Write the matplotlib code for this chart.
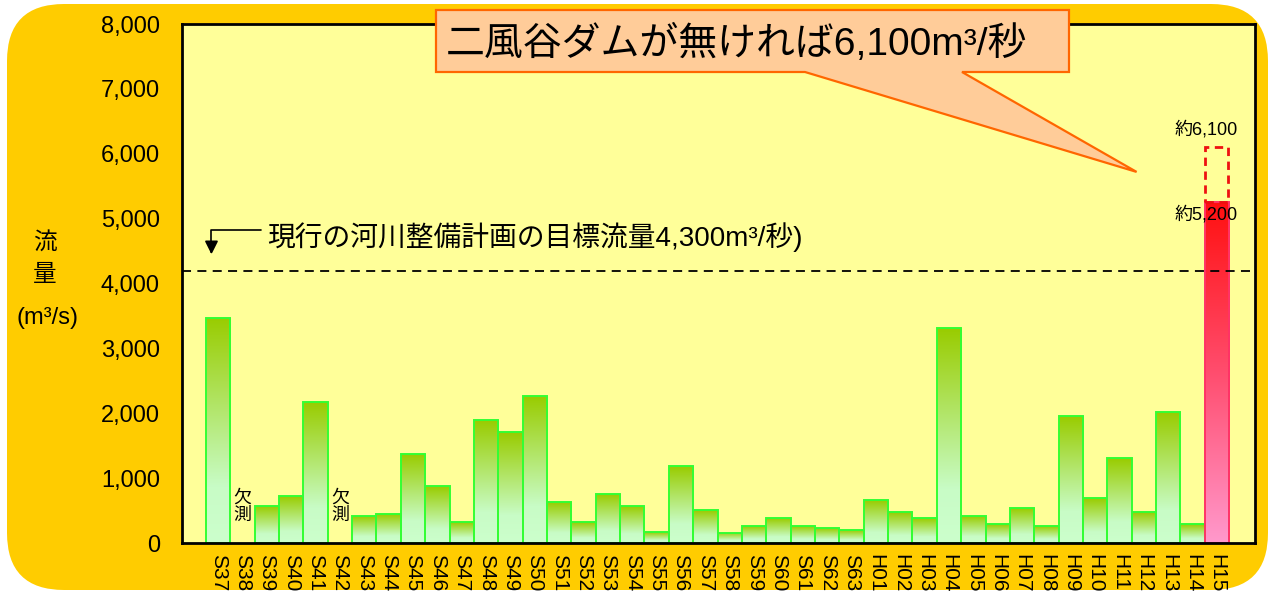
import matplotlib.pyplot as plt
import numpy as np
from matplotlib.colors import LinearSegmentedColormap
from matplotlib.patches import Rectangle, FancyBboxPatch, Polygon

plt.rcParams["font.family"] = ["Liberation Sans", "Noto Sans CJK JP"]

# ---- data ----
years = ["S37", "S38", "S39", "S40", "S41", "S42", "S43", "S44", "S45", "S46",
         "S47", "S48", "S49", "S50", "S51", "S52", "S53", "S54", "S55", "S56",
         "S57", "S58", "S59", "S60", "S61", "S62", "S63",
         "H01", "H02", "H03", "H04", "H05", "H06", "H07", "H08", "H09", "H10",
         "H11", "H12", "H13", "H14", "H15"]
flow = [3470, 0, 566, 720, 2170, 0, 411, 442, 1367, 874,
        319, 1895, 1710, 2265, 627, 319, 750, 566, 165, 1182,
        504, 160, 257, 380, 257, 227, 196,
        658, 473, 380, 3313, 411, 288, 535, 257, 1957, 689,
        1305, 473, 2018, 288, 5250]
missing = ["S38", "S42"]          # 欠測
target_line = 4200                 # drawn position of the 4,300 m3/s target
no_dam_flow = 6100                 # H15 without the dam
yticks = [0, 1000, 2000, 3000, 4000, 5000, 6000, 7000, 8000]

ORANGE = "#ffcc00"
PLOT_BG = "#ffff99"
green_cmap = LinearSegmentedColormap.from_list(
    "g", [(0, "#ccffcc"), (0.25, "#c8fcc6"), (1, "#99cc00")])
red_cmap = LinearSegmentedColormap.from_list(
    "r", [(0, "#ff99cc"), (0.5, "#ff4d6e"), (1, "#ff1010")])

fig = plt.figure(figsize=(12.69, 5.92), dpi=100)
fig.patch.set_facecolor("white")
fig.patches.append(FancyBboxPatch((7 / 1269, 2 / 592), 1261 / 1269, 586 / 592,
                                  boxstyle="round,pad=0,rounding_size=0.045",
                                  transform=fig.transFigure, facecolor=ORANGE,
                                  edgecolor="none", zorder=-10,
                                  mutation_aspect=1269 / 592))

ax = fig.add_axes([182 / 1269, 1 - 543 / 592, (1255 - 182) / 1269, (543 - 24) / 592])
ax.set_facecolor(PLOT_BG)
x = np.arange(len(years))
ax.set_xlim(-1.48, len(years) + 0.56)
ax.set_ylim(0, 8000)

grad = np.linspace(0, 1, 256).reshape(-1, 1)
for i, (lab, v) in enumerate(zip(years, flow)):
    if v <= 0:
        continue
    cmap = red_cmap if lab == "H15" else green_cmap
    ec = "#ff3366" if lab == "H15" else "#33ff33"
    im = ax.imshow(grad, extent=[i - 0.5, i + 0.5, 0, v], origin="lower",
                   aspect="auto", cmap=cmap, zorder=2)
    r = Rectangle((i - 0.5, 0), 1, v, facecolor="none", edgecolor=ec,
                  linewidth=1.4, zorder=3)
    ax.add_patch(r)
    im.set_clip_path(r)

# 欠測 labels
for lab in missing:
    i = years.index(lab)
    ax.text(i, 555, "欠\n測", ha="center", va="center", fontsize=13,
            linespacing=1.0, zorder=4)

# no-dam dashed box on H15
i15 = years.index("H15")
ax.add_patch(Rectangle((i15 - 0.5, flow[i15]), 0.95, no_dam_flow - flow[i15],
                       fill=False, edgecolor="#ee1111", linestyle=(0, (3, 2)),
                       linewidth=2, zorder=4))
ax.text(i15 - 0.45, 6370, "約6,100", ha="center", va="center", fontsize=13, zorder=5)
ax.text(i15 - 0.45, 5060, "約5,200", ha="center", va="center", fontsize=13, zorder=5)

# target line
ax.axhline(target_line, color="black", linestyle=(0, (5, 3.5)), linewidth=1.3,
           zorder=5)
ax.annotate("", xy=(-0.27, 4450), xytext=(1.75, 4825),
            arrowprops=dict(arrowstyle="-|>", color="black", lw=1.2,
                            connectionstyle="angle,angleA=180,angleB=90,rad=0",
                            mutation_scale=20, shrinkA=0, shrinkB=0))
ax.text(2.03, 4717, "現行の河川整備計画の目標流量4,300m³/秒)", ha="left",
        va="center", fontsize=20, zorder=5)

# axes styling
for s in ax.spines.values():
    s.set_linewidth(2)
    s.set_color("black")
    s.set_zorder(6)
ax.set_yticks(yticks)
ax.set_yticklabels([f"{t:,}" for t in yticks], fontsize=17)
ax.set_xticks(x)
ax.set_xticklabels(years, rotation=-90, fontsize=15)
ax.tick_params(axis="both", length=0)
ax.tick_params(axis="y", pad=16)
ax.tick_params(axis="x", pad=8)

# y label
fig.text(45 / 1269, 1 - 243 / 592, "流", ha="center", va="center", fontsize=17)
fig.text(45 / 1269, 1 - 275 / 592, "量", ha="center", va="center", fontsize=17)
fig.text(48 / 1269, 1 - 318 / 592, "(m³/s)", ha="center", va="center", fontsize=17)

# callout box with tail pointing to H15
fig.canvas.draw()
tip_disp = ax.transData.transform((37.7, 5720))
tip = fig.transFigure.inverted().transform(tip_disp)
L, R, T, B = 436 / 1269, 1069 / 1269, 1 - 10 / 592, 1 - 72 / 592
tail_l, tail_r = 805 / 1269, 962 / 1269
poly = Polygon([(L, T), (R, T), (R, B), (tail_r, B), tuple(tip), (tail_l, B), (L, B)],
               closed=True, transform=fig.transFigure, facecolor="#ffcc99",
               edgecolor="#ff6600", linewidth=1.6, joinstyle="miter", zorder=20)
fig.patches.append(poly)
fig.text(446 / 1269, 1 - 44 / 592, "二風谷ダムが無ければ6,100m³/秒", ha="left",
         va="center", fontsize=28, zorder=21)

plt.savefig("out.png", dpi=100)
